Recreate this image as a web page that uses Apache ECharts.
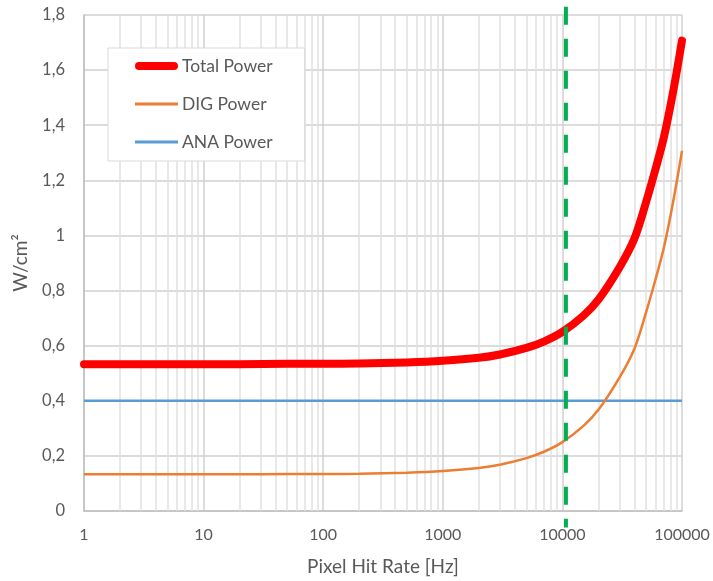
<!DOCTYPE html>
<html><head><meta charset="utf-8">
<script src="https://cdn.jsdelivr.net/npm/echarts@6/dist/echarts.min.js"></script>
<style>html,body{margin:0;padding:0;background:#fff}#c{width:713px;height:581px}</style>
</head><body><div id="c"></div>
<script>
// Pixel hit rate [Hz]
const rates = [1, 2, 5, 10, 20, 50, 100, 200, 500, 1000, 2000, 3000, 5000, 7000, 10000, 15000, 20000, 30000, 40000, 50000, 60000, 70000, 80000, 90000, 100000];
const digPower = [0.133, 0.133, 0.133, 0.133, 0.133, 0.134, 0.134, 0.135, 0.139, 0.145, 0.156, 0.168, 0.192, 0.215, 0.25, 0.309, 0.367, 0.484, 0.589, 0.72, 0.84, 0.95, 1.07, 1.19, 1.307];
const anaPower = [0.4, 0.4, 0.4, 0.4, 0.4, 0.4, 0.4, 0.4, 0.4, 0.4, 0.4, 0.4, 0.4, 0.4, 0.4, 0.4, 0.4, 0.4, 0.4, 0.4, 0.4, 0.4, 0.4, 0.4, 0.4];
const totalPower = [0.533, 0.533, 0.533, 0.533, 0.533, 0.534, 0.534, 0.535, 0.539, 0.545, 0.556, 0.568, 0.592, 0.615, 0.65, 0.709, 0.767, 0.884, 0.989, 1.12, 1.24, 1.35, 1.47, 1.59, 1.707];
const markerRate = 10700;
const markerSpan = [1.83, -0.06];
const minorGrid = [2,3,4,5,6,7,8,9,20,30,40,50,60,70,80,90,200,300,400,500,600,700,800,900,2000,3000,4000,5000,6000,7000,8000,9000,20000,30000,40000,50000,60000,70000,80000,90000];
const xTicks = [1, 10, 100, 1000, 10000, 100000];
const yTicks = [0, 0.2, 0.4, 0.6, 0.8, 1, 1.2, 1.4, 1.6, 1.8];

const pair = (ys) => rates.map((r, i) => [r, ys[i]]);
const FONT = 'Lato';
const chart = echarts.init(document.getElementById('c'), null, {renderer: 'canvas'});
chart.setOption({
  animation: false,
  backgroundColor: '#ffffff',
  textStyle: {fontFamily: FONT},
  grid: {left: 84, right: 31, top: 15, bottom: 68, containLabel: false},
  legend: {
    orient: 'vertical', left: 108, top: 48, z: 30,
    padding: [9, 32, 10, 27], itemGap: 20, itemWidth: 43, itemHeight: 14,
    backgroundColor: '#ffffff', borderColor: '#d9d9d9', borderWidth: 1,
    textStyle: {fontFamily: FONT, fontSize: 17.5, color: '#595959', padding: [0,0,0,-1]},
    data: [
      {name: 'Total Power', icon: 'path://M4,0 L39,0 A4,4 0 0 1 39,8 L4,8 A4,4 0 0 1 4,0 Z', itemStyle:{color:'#ff0000'}},
      {name: 'DIG Power', icon: 'path://M0,0 L43,0 L43,3 L0,3 Z', itemStyle:{color:'#ed7d31'}},
      {name: 'ANA Power', icon: 'path://M0,0 L43,0 L43,3 L0,3 Z', itemStyle:{color:'#5b9bd5'}}
    ]
  },
  xAxis: {
    type: 'log', logBase: 10, min: xTicks[0], max: xTicks[xTicks.length-1],
    name: 'Pixel Hit Rate [Hz]', nameLocation: 'middle', nameGap: 46,
    nameTextStyle: {fontFamily: FONT, fontSize: 19, color: '#595959'},
    axisLine: {show: true, lineStyle: {color: '#bfbfbf', width: 1.5}},
    axisTick: {show: false},
    axisLabel: {fontFamily: FONT, fontSize: 16, color: '#595959', margin: 16,
      formatter: (v) => String(Math.round(v))},
    splitLine: {show: true, lineStyle: {color: '#d0d0d0', width: 1.5}}
  },
  yAxis: {
    type: 'value', min: yTicks[0], max: yTicks[yTicks.length-1], interval: 0.2,
    name: 'W/cm²', nameLocation: 'middle', nameGap: 54, nameRotate: 90,
    nameTextStyle: {fontFamily: FONT, fontSize: 19, color: '#595959'},
    axisLine: {show: true, lineStyle: {color: '#bfbfbf', width: 1.5}},
    axisTick: {show: false},
    axisLabel: {fontFamily: FONT, fontSize: 16.5, color: '#595959', margin: 19,
      formatter: (v) => String(Math.round(v*10)/10).replace('.', ',')},
    splitLine: {show: true, lineStyle: {color: '#d0d0d0', width: 1.5}}
  },
  series: [
    {
      name: 'minor', type: 'line', data: [], z: 1, silent: true,
      markLine: {silent: true, z: 1, zlevel: 0, symbol: ['none','none'], label: {show: false},
        emphasis: {disabled: true},
        lineStyle: {color: '#e0e0e0', width: 1.5, type: 'solid'},
        data: minorGrid.map(v => ({xAxis: v}))}
    },
    {
      name: 'ANA Power', type: 'line', data: pair(anaPower), showSymbol: false, symbol: 'none',
      lineStyle: {color: '#5b9bd5', width: 2.5}, itemStyle: {color: '#5b9bd5'}, z: 10
    },
    {
      name: 'DIG Power', type: 'line', data: pair(digPower), showSymbol: false, symbol: 'none', smooth: 0.3,
      lineStyle: {color: '#ed7d31', width: 2.5}, itemStyle: {color: '#ed7d31'}, z: 11
    },
    {
      name: 'Total Power', type: 'line', data: pair(totalPower), showSymbol: false, symbol: 'none', smooth: 0.3,
      lineStyle: {color: '#ff0000', width: 8, cap: 'round', join: 'round'}, itemStyle: {color: '#ff0000'}, z: 12
    },
    {
      name: 'marker', type: 'line', data: markerSpan.map(v => [markerRate, v]), showSymbol: false, symbol: 'none',
      clip: false, silent: true,
      lineStyle: {color: '#00b050', width: 4, type: [18, 14], cap: 'butt'}, z: 13
    }
  ]
});
</script></body></html>
